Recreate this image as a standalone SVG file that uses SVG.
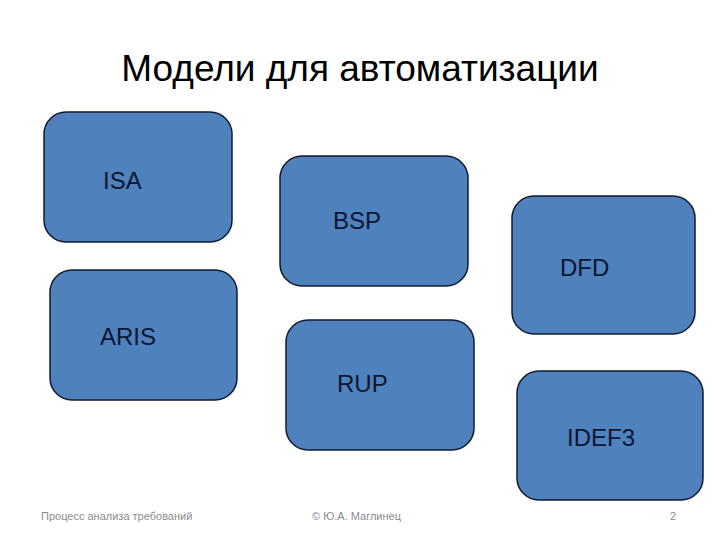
<svg xmlns="http://www.w3.org/2000/svg" width="720" height="540" viewBox="0 0 720 540">
<style>
.b{fill:#4f81bd;stroke:#111a33;stroke-width:1.5}
.t{font-family:"Liberation Sans",Arial,sans-serif;font-size:24px;fill:#0b1530}
.f{font-family:"Liberation Sans",Arial,sans-serif;font-size:11px;fill:#8c8c8c}
</style>
<rect width="720" height="540" fill="#fff"/>
<text x="360" y="81" text-anchor="middle" font-family="'Liberation Sans',Arial,sans-serif" font-size="37" fill="#000">Модели для автоматизации</text>
<g id="isa"><rect class="b" x="44" y="112" width="188" height="130" rx="22"/><text class="t" x="103" y="189">ISA</text></g>
<g id="bsp"><rect class="b" x="280" y="156" width="188" height="130" rx="22"/><text class="t" x="333" y="229">BSP</text></g>
<g id="dfd"><rect class="b" x="512" y="196" width="183" height="138" rx="22"/><text class="t" x="560" y="276">DFD</text></g>
<g id="aris"><rect class="b" x="50" y="270" width="187" height="130" rx="22"/><text class="t" x="100" y="345">ARIS</text></g>
<g id="rup"><rect class="b" x="286" y="320" width="188" height="130" rx="22"/><text class="t" x="337" y="392">RUP</text></g>
<g id="idef3"><rect class="b" x="517" y="371" width="186" height="129" rx="22"/><text class="t" x="567" y="446">IDEF3</text></g>
<g id="connectors"/>
<text class="f" x="41" y="520">Процесс анализа требований</text>
<text class="f" x="312" y="520">© Ю.А. Маглинец</text>
<text class="f" x="670" y="520">2</text>
</svg>
